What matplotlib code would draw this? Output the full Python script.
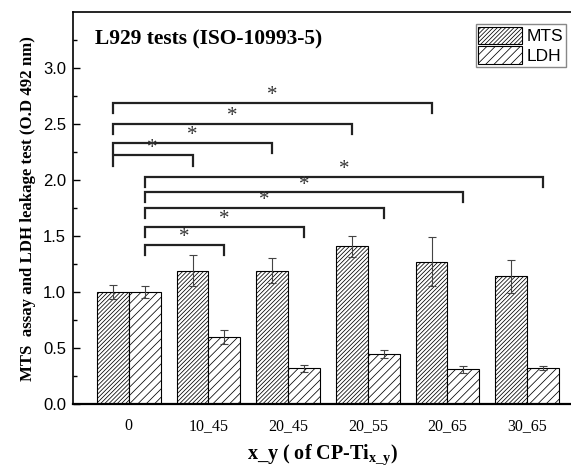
import numpy as np
import matplotlib
matplotlib.use("Agg")
import matplotlib.pyplot as plt

plt.rcParams['mathtext.fontset'] = 'custom'
plt.rcParams['mathtext.rm'] = 'Liberation Serif:bold'
plt.rcParams['mathtext.bf'] = 'Liberation Serif:bold'
plt.rcParams['hatch.linewidth'] = 0.55

groups = ['0', '10_45', '20_45', '20_55', '20_65', '30_65']
mts = [1.00, 1.19, 1.19, 1.41, 1.27, 1.14]
mts_err = [0.06, 0.14, 0.11, 0.095, 0.22, 0.15]
ldh = [1.00, 0.60, 0.32, 0.45, 0.31, 0.32]
ldh_err = [0.05, 0.06, 0.03, 0.035, 0.03, 0.02]

# significance brackets: (to group, height), all start at group 0
mts_sig = [(1, 2.22), (2, 2.335), (3, 2.505), (4, 2.69)]
ldh_sig = [(1, 1.42), (2, 1.585), (3, 1.75), (4, 1.89), (5, 2.03)]

serif = 'Liberation Serif'
sans = 'Liberation Sans'

fig = plt.figure(figsize=(5.71, 4.66), dpi=100)
ax = fig.add_axes([0.1278, 0.133, 0.8722, 0.841])

x = np.arange(1, len(groups) + 1)
w = 0.40
ax.bar(x - w / 2, mts, w, color='white', edgecolor='black', hatch='////////',
       linewidth=0.8, label='MTS')
ax.bar(x + w / 2, ldh, w, color='white', edgecolor='black', hatch='////',
       linewidth=0.8, label='LDH')
ax.errorbar(x - w / 2, mts, yerr=mts_err, fmt='none', ecolor='#444444',
            elinewidth=0.8, capsize=2.8, capthick=0.8)
ax.errorbar(x + w / 2, ldh, yerr=ldh_err, fmt='none', ecolor='#444444',
            elinewidth=0.8, capsize=2.8, capthick=0.8)

leg_h = 0.09


def bracket(x0, x1, h):
    ax.plot([x0, x0, x1, x1], [h - leg_h, h, h, h - leg_h], color='#222222',
            lw=1.6, solid_joinstyle='miter')
    ax.text((x0 + x1) / 2, h + 0.065, '*', ha='center', va='center',
            fontsize=15, family=serif, color='#333333')


for g, h in mts_sig:
    bracket(x[0] - w / 2, x[g] - w / 2, h)
for g, h in ldh_sig:
    bracket(x[0] + w / 2, x[g] + w / 2, h)

ax.set_xlim(0.30, 6.55)
ax.set_ylim(0, 3.5)
ax.set_yticks(np.arange(0, 3.01, 0.5))
ax.set_yticks(np.arange(0.25, 3.5, 0.5), minor=True)
ax.tick_params(axis='y', which='both', direction='in', length=5, width=1,
               labelsize=12, pad=5)
ax.tick_params(axis='y', which='minor', length=3)
for lab in ax.get_yticklabels():
    lab.set_family(sans)
ax.set_xticks(x)
ax.set_xticklabels(groups, family=serif, fontsize=11.5)
ax.tick_params(axis='x', length=0, pad=10)

ax.spines['right'].set_visible(False)
ax.spines['bottom'].set_linewidth(1.6)
ax.spines['left'].set_linewidth(1.2)
ax.spines['top'].set_linewidth(1.2)

ax.set_ylabel('MTS  assay and LDH leakage test (O.D 492 nm)', family=serif,
              fontweight='bold', fontsize=12.1, labelpad=5)
ax.set_xlabel(r'x_y ( of CP-Ti$_\mathbf{x\_y}$)', family=serif, fontweight='bold',
              fontsize=14.5, labelpad=6)
ax.text(0.045, 0.93, 'L929 tests (ISO-10993-5)', transform=ax.transAxes,
        family=serif, fontweight='bold', fontsize=15.5, va='center')

leg = ax.legend(loc='upper right', bbox_to_anchor=(566 / 571, 1 - 24 / 466),
                bbox_transform=fig.transFigure, prop={'family': sans, 'size': 12.5},
                fancybox=False, handlelength=2.5, handleheight=1.2,
                labelspacing=0.12, borderpad=0.15, handletextpad=0.3,
                borderaxespad=0, framealpha=1)
leg.get_frame().set_edgecolor('#888888')
leg.get_frame().set_linewidth(1.0)

fig.savefig('out.png', dpi=100)
